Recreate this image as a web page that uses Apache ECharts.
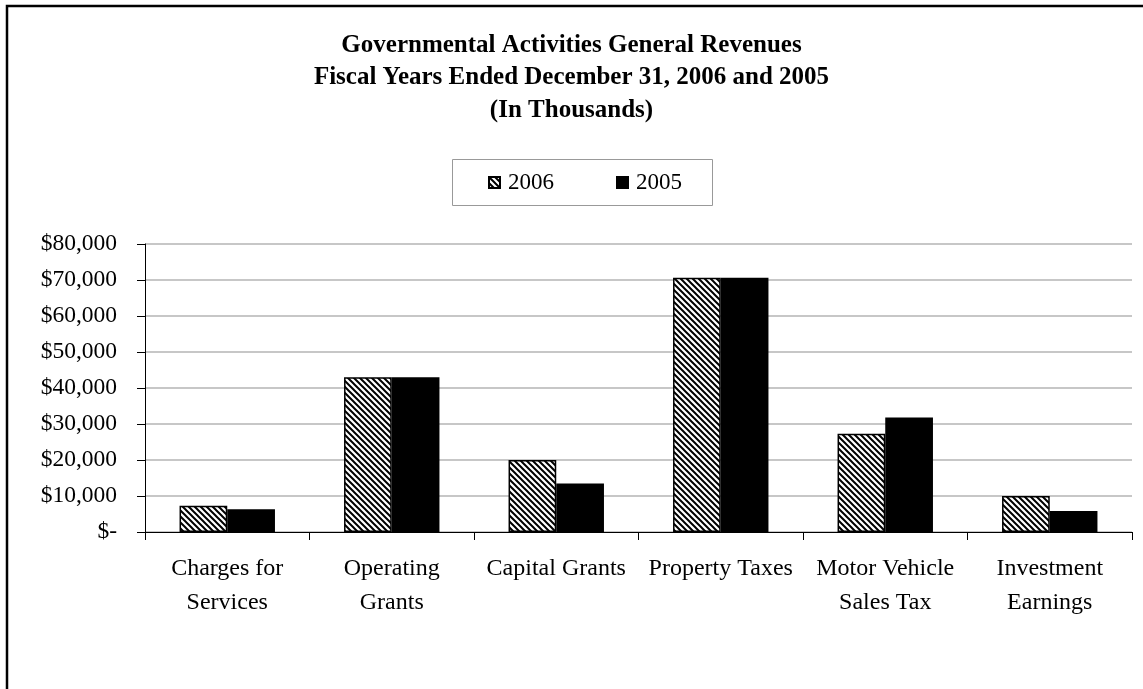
<!DOCTYPE html>
<html>
<head>
<meta charset="utf-8">
<script src="https://cdn.jsdelivr.net/npm/echarts@6/dist/echarts.min.js"></script>
<style>
  html, body { margin: 0; padding: 0; background: #fff; }
  #chart { width: 1143px; height: 689px; }
</style>
</head>
<body>
<div id="chart"></div>
<script>
// Revenue categories (in thousands of dollars)
const categories = [
  'Charges for\nServices',
  'Operating\nGrants',
  'Capital Grants',
  'Property Taxes',
  'Motor Vehicle\nSales Tax',
  'Investment\nEarnings'
];
const revenue2006 = [7300, 43000, 20000, 70600, 27300, 10000];
const revenue2005 = [6300, 43000, 13500, 70600, 31800, 5800];
const yTicks = [0, 10000, 20000, 30000, 40000, 50000, 60000, 70000, 80000];

const serif = '"Liberation Serif", "Times New Roman", serif';

// Diagonal hatch fill for the 2006 bars
function makeHatch() {
  const size = 6;
  const c = document.createElement('canvas');
  c.width = size; c.height = size;
  const ctx = c.getContext('2d');
  ctx.fillStyle = '#ffffff';
  ctx.fillRect(0, 0, size, size);
  ctx.strokeStyle = '#000000';
  ctx.lineWidth = 2;
  ctx.beginPath();
  ctx.moveTo(-size, -size); ctx.lineTo(2 * size, 2 * size);
  ctx.moveTo(0, -size); ctx.lineTo(2 * size, size);
  ctx.moveTo(-size, 0); ctx.lineTo(size, 2 * size);
  ctx.stroke();
  return c;
}
const hatch = { image: makeHatch(), repeat: 'repeat' };

function fmtMoney(v) {
  if (v === 0) return '$-';
  return '$' + v.toLocaleString('en-US');
}

const chart = echarts.init(document.getElementById('chart'), null, { renderer: 'canvas' });

chart.setOption({
  backgroundColor: '#ffffff',
  animation: false,
  title: {
    text: 'Governmental Activities General Revenues\nFiscal Years Ended December 31, 2006 and 2005\n(In Thousands)',
    left: 'center',
    top: 24,
    textStyle: {
      fontFamily: serif,
      fontWeight: 'bold',
      fontSize: 25,
      lineHeight: 32.5,
      color: '#000'
    }
  },
  legend: {
    data: ['2006', '2005'],
    left: 488,
    top: 171,
    padding: 0,
    itemWidth: 11,
    itemHeight: 11,
    itemGap: 62,
    icon: 'rect',
    textStyle: { fontFamily: serif, fontSize: 23, color: '#000', padding: [0, 0, 0, 3] }
  },
  graphic: [
    // outer chart frame
    {
      type: 'rect',
      shape: { x: 7, y: 6, width: 1200, height: 760 },
      style: { fill: 'none', stroke: '#000', lineWidth: 2.5 },
      silent: true
    },
    // legend frame
    {
      type: 'rect',
      shape: { x: 452.5, y: 159.5, width: 260, height: 46 },
      style: { fill: 'none', stroke: '#999', lineWidth: 1 },
      silent: true
    }
  ],
  grid: { left: 145, top: 244, right: 11, bottom: 157, containLabel: false },
  xAxis: {
    type: 'category',
    data: categories,
    axisLine: { show: true, lineStyle: { color: '#000', width: 1 } },
    axisTick: { show: true, length: 8, alignWithLabel: false, lineStyle: { color: '#000' } },
    axisLabel: {
      fontFamily: serif,
      fontSize: 24,
      lineHeight: 34,
      color: '#000',
      margin: 20,
      interval: 0
    },
    splitLine: { show: false }
  },
  yAxis: {
    type: 'value',
    min: 0,
    max: 80000,
    interval: 10000,
    axisLine: { show: true, lineStyle: { color: '#000', width: 1 } },
    axisTick: { show: true, length: 8, inside: false, lineStyle: { color: '#000' } },
    axisLabel: {
      fontFamily: serif,
      fontSize: 23.5,
      color: '#000',
      margin: 28,
      formatter: fmtMoney,
      customValues: yTicks
    },
    splitLine: { show: true, lineStyle: { color: '#b4b4b4', width: 1.5 } }
  },
  series: [
    {
      name: '2006',
      type: 'bar',
      data: revenue2006,
      barGap: '0%',
      barCategoryGap: '42%',
      itemStyle: { color: hatch, borderColor: '#000', borderWidth: 1.5 }
    },
    {
      name: '2005',
      type: 'bar',
      data: revenue2005,
      itemStyle: { color: '#000', borderColor: '#000', borderWidth: 1.5 }
    }
  ]
});
</script>
</body>
</html>
